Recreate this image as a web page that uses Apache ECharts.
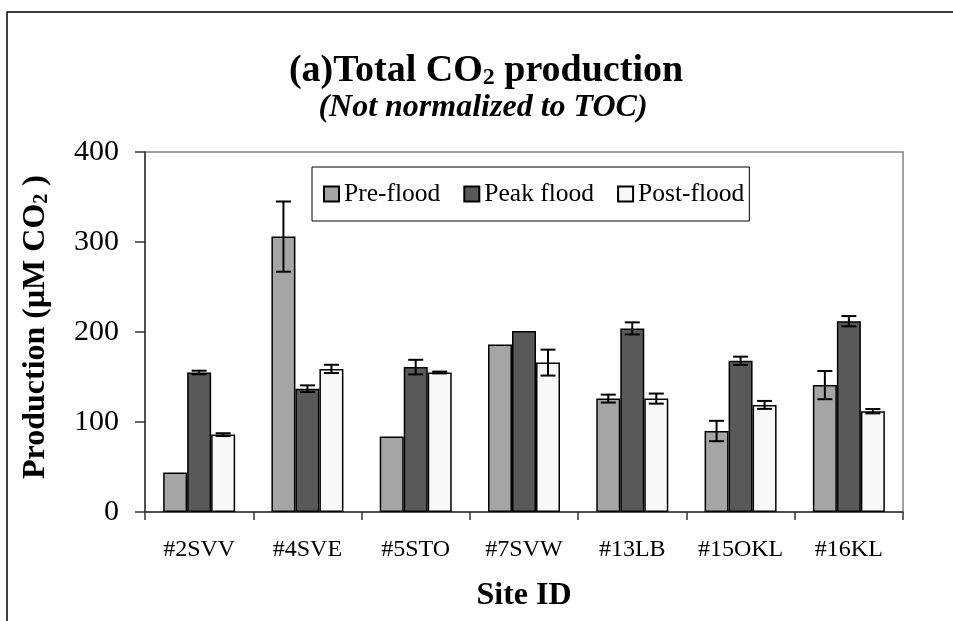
<!DOCTYPE html>
<html>
<head>
<meta charset="utf-8">
<script src="https://cdn.jsdelivr.net/npm/echarts@6/dist/echarts.min.js"></script>
<style>
html,body{margin:0;padding:0;background:#fff;}
#chart{width:953px;height:621px;}
</style>
</head>
<body>
<div id="chart"></div>
<script>
const categories = ['#2SVV', '#4SVE', '#5STO', '#7SVW', '#13LB', '#15OKL', '#16KL'];
const seriesNames = ['Pre-flood', 'Peak flood', 'Post-flood'];
const preFlood = [44, 306, 84, 186, 126, 90, 141];
const peakFlood = [155, 137, 161, 201, 204, 168, 212];
const postFlood = [86, 159, 155, 166, 126, 119, 112];
const preErr = [null, 39, null, null, 4.4, 11.3, 15.7];
const peakErr = [2, 3.7, 8.1, null, 6.7, 4.6, 5.7];
const postErr = [1.5, 4.6, 1, 14.4, 5.6, 4.4, 2.4];
const yTicks = [0, 100, 200, 300, 400];

const colors = ['#a5a5a5', '#595959', '#f8f8f8'];
const FONT = '"Liberation Serif", "Times New Roman", serif';
const BAR_W = 24;

const chart = echarts.init(document.getElementById('chart'), null, {renderer: 'canvas'});

function barSeries(name, data, color) {
  return {
    name: name,
    type: 'bar',
    data: data,
    barWidth: BAR_W,
    barGap: '0%',
    itemStyle: {color: color, borderColor: '#000', borderWidth: 1.5},
    emphasis: {disabled: true},
    z: 2
  };
}

function errSeries(values, errs, idx) {
  return {
    type: 'custom',
    name: 'err' + idx,
    data: values.map((v, i) => [i, v, errs[i] == null ? 0 : errs[i]]),
    encode: {x: 0, y: 1},
    z: 5,
    silent: true,
    renderItem: function (params, api) {
      const e = api.value(2);
      if (!(e > 0)) return null;
      const x = api.value(0), v = api.value(1);
      const hi = api.coord([x, v + e]);
      const lo = api.coord([x, v - e]);
      const cx = hi[0] + (idx - 1) * BAR_W;
      const cap = 7.5;
      const st = {stroke: '#000', lineWidth: 2};
      return {
        type: 'group',
        children: [
          {type: 'line', shape: {x1: cx, y1: hi[1], x2: cx, y2: lo[1]}, style: st},
          {type: 'line', shape: {x1: cx - cap, y1: hi[1], x2: cx + cap, y2: hi[1]}, style: st},
          {type: 'line', shape: {x1: cx - cap, y1: lo[1], x2: cx + cap, y2: lo[1]}, style: st}
        ]
      };
    }
  };
}

const option = {
  backgroundColor: '#fff',
  animation: false,
  textStyle: {fontFamily: FONT},
  grid: {left: 145, right: 50, top: 152, bottom: 109, show: true, borderColor: '#808080', borderWidth: 1.5, containLabel: false},
  legend: {
    data: seriesNames,
    left: 312,
    top: 167,
    orient: 'horizontal',
    padding: [14, 5, 14, 11],
    itemGap: 23,
    itemWidth: 15,
    itemHeight: 15,
    icon: 'rect',
    borderColor: '#000',
    borderWidth: 1,
    backgroundColor: '#fff',
    textStyle: {fontFamily: FONT, fontSize: 25.5, color: '#000'}
  },
  xAxis: {
    type: 'category',
    data: categories,
    name: 'Site ID',
    nameLocation: 'middle',
    nameGap: 68,
    nameTextStyle: {fontFamily: FONT, fontSize: 32, fontWeight: 'bold', color: '#000'},
    axisLine: {show: true, lineStyle: {color: '#333', width: 1.5}},
    axisTick: {show: true, length: 8, alignWithLabel: false, lineStyle: {color: '#333', width: 1.5}},
    axisLabel: {fontFamily: FONT, fontSize: 24, color: '#000', margin: 26, interval: 0}
  },
  yAxis: {
    type: 'value',
    min: yTicks[0],
    max: yTicks[yTicks.length - 1],
    interval: 100,
    name: '{b|Production (μM CO}{s|2}{b| )}',
    nameLocation: 'middle',
    nameRotate: 90,
    nameGap: 93,
    nameTextStyle: {
      padding: [0, 0, 0, 10],
      rich: {
        b: {fontFamily: FONT, fontSize: 32, fontWeight: 'bold', color: '#000', lineHeight: 40, verticalAlign: 'bottom'},
        s: {fontFamily: FONT, fontSize: 20, fontWeight: 'bold', color: '#000', lineHeight: 20, verticalAlign: 'bottom'}
      }
    },
    axisLine: {show: true, lineStyle: {color: '#333', width: 1.5}},
    axisTick: {show: true, length: 10, lineStyle: {color: '#333', width: 1.5}},
    splitLine: {show: false},
    axisLabel: {fontFamily: FONT, fontSize: 30, color: '#000', margin: 26}
  },
  graphic: [
    {type: 'rect', shape: {x: 7, y: 12, width: 1000, height: 700}, style: {fill: 'none', stroke: '#000', lineWidth: 1.5}, silent: true, z: -10},
    {
      type: 'text', x: 486, y: 66, silent: true,
      style: {
        text: '{t|(a)Total CO}{s|2}{t| production}',
        textAlign: 'center', textVerticalAlign: 'middle',
        rich: {
          t: {fontFamily: FONT, fontSize: 38, fontWeight: 'bold', fill: '#000', lineHeight: 48, verticalAlign: 'bottom'},
          s: {fontFamily: FONT, fontSize: 24, fontWeight: 'bold', fill: '#000', lineHeight: 24, verticalAlign: 'bottom'}
        }
      }
    },
    {
      type: 'text', x: 483, y: 108, silent: true,
      style: {
        text: '(Not normalized to TOC)',
        textAlign: 'center', textVerticalAlign: 'middle',
        font: 'italic bold 32px ' + FONT,
        fill: '#000'
      }
    }
  ],
  series: [
    barSeries(seriesNames[0], preFlood, colors[0]),
    barSeries(seriesNames[1], peakFlood, colors[1]),
    barSeries(seriesNames[2], postFlood, colors[2]),
    errSeries(preFlood, preErr, 0),
    errSeries(peakFlood, peakErr, 1),
    errSeries(postFlood, postErr, 2)
  ]
};
chart.setOption(option);
</script>
</body>
</html>
